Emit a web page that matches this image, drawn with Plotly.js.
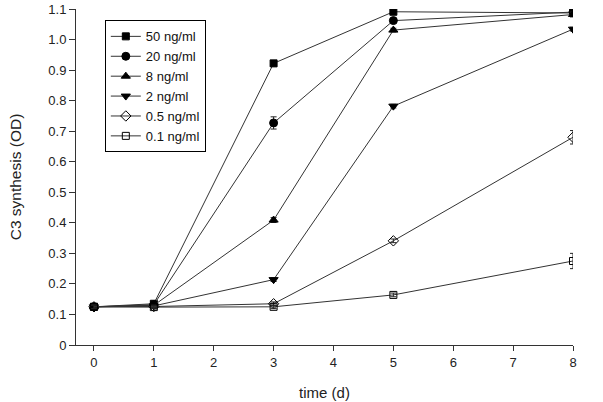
<!DOCTYPE html>
<html>
<head>
<meta charset="utf-8">
<script src="https://cdn.plot.ly/plotly-3.0.1.min.js"></script>
<style>html,body{margin:0;padding:0;background:#fff;}#chart{width:603px;height:402px;}</style>
</head>
<body>
<div id="chart"></div>
<script>
var days = [0, 1, 3, 5, 8];
var seriesNames = ["50 ng/ml", "20 ng/ml", "8 ng/ml", "2 ng/ml", "0.5 ng/ml", "0.1 ng/ml"];
var s50  = [0.125, 0.135, 0.922, 1.091, 1.087];
var s20  = [0.125, 0.132, 0.727, 1.062, 1.090];
var s8   = [0.125, 0.130, 0.409, 1.031, 1.082];
var s2   = [0.125, 0.128, 0.214, 0.782, 1.034];
var s05  = [0.125, 0.126, 0.135, 0.341, 0.680];
var s01  = [0.125, 0.124, 0.125, 0.164, 0.275];
var e50  = [0.006, 0.005, 0.008, 0.006, 0.008];
var e20  = [0.006, 0.005, 0.020, 0.006, 0.008];
var e8   = [0.006, 0.005, 0.008, 0.006, 0.008];
var e2   = [0.006, 0.005, 0.006, 0.006, 0.006];
var e05  = [0.006, 0.005, 0.006, 0.006, 0.022];
var e01  = [0.006, 0.005, 0.006, 0.006, 0.025];
var yTickVals = [0, 0.1, 0.2, 0.3, 0.4, 0.5, 0.6, 0.7, 0.8, 0.9, 1.0, 1.1];
var yTickText = ["0", "0.1", "0.2", "0.3", "0.4", "0.5", "0.6", "0.7", "0.8", "0.9", "1.0", "1.1"];
var xTickVals = [0, 1, 2, 3, 4, 5, 6, 7, 8];

var ys = [s50, s20, s8, s2, s05, s01];
var es = [e50, e20, e8, e2, e05, e01];
var symbols = ["square", "circle", "triangle-up", "triangle-down", "diamond-open", "square-open"];
var sizes = [7, 8, 8, 8, 8, 7];

var traces = ys.map(function (y, i) {
  return {
    x: days, y: y, name: seriesNames[i], type: "scatter", mode: "lines+markers",
    line: {color: "#333", width: 1},
    marker: {symbol: symbols[i], size: sizes[i], color: "#000", line: {color: "#000", width: 1}},
    error_y: {type: "data", array: es[i], visible: true, color: "#222", thickness: 1, width: 3}
  };
});

var layout = {
  width: 603, height: 402,
  margin: {l: 76, r: 30, t: 9, b: 57},
  paper_bgcolor: "#fff", plot_bgcolor: "#fff",
  font: {family: "Liberation Sans, Arial, sans-serif", color: "#222"},
  showlegend: true,
  legend: {x: 0.058, y: 0.966, xanchor: "left", yanchor: "top", bordercolor: "#000", borderwidth: 1,
    bgcolor: "#fff", font: {size: 13, color: "#111"}, tracegroupgap: 0},
  xaxis: {range: [-0.3, 8], tickvals: xTickVals, ticks: "outside", ticklen: 5, tickcolor: "#333",
    showline: true, linecolor: "#333", linewidth: 1, showgrid: false, zeroline: false,
    tickfont: {size: 13, color: "#222"},
    title: {text: "time (d)", font: {size: 15, color: "#222"}, standoff: 18}},
  yaxis: {range: [0, 1.1], tickvals: yTickVals, ticktext: yTickText, ticks: "outside", ticklen: 6, tickcolor: "#333",
    showline: true, linecolor: "#333", linewidth: 1, showgrid: false, zeroline: false,
    tickfont: {size: 13, color: "#222"},
    title: {text: "C3 synthesis (OD)", font: {size: 15.5, color: "#222"}, standoff: 22}}
};

Plotly.newPlot("chart", traces, layout, {displayModeBar: false, staticPlot: true});
</script>
</body>
</html>
